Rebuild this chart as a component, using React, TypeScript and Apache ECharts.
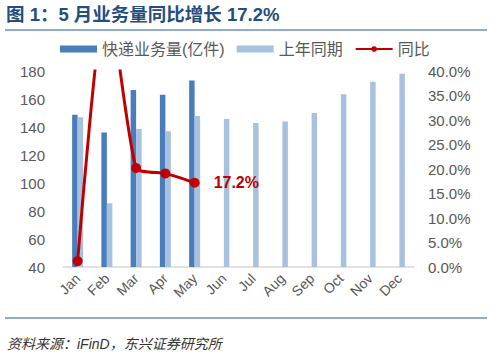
import React, { useEffect, useRef } from "react";
import * as echarts from "echarts";

const months = ["Jan", "Feb", "Mar", "Apr", "May", "Jun", "Jul", "Aug", "Sep", "Oct", "Nov", "Dec"];
const volume2025 = [148.7, 136, 166.5, 163, 173.2];
const volume2024 = [147, 85.5, 138.6, 137, 147.9, 145.7, 142.9, 144, 150, 163.4, 172.4, 178];
const yoy = [1.2, 57, 20.2, 19.1, 17.2];
const leftTicks = { min: 40, max: 180, interval: 20 };
const rightTicks = { min: 0, max: 40, interval: 5 };

const FONT = "'Liberation Sans', Arial, 'Noto Sans CJK SC', sans-serif";

export default function App() {
  const ref = useRef<HTMLDivElement>(null);
  useEffect(() => {
    if (!ref.current) return;
    const chart = echarts.init(ref.current, undefined, { renderer: "svg" });
    chart.setOption({
      animation: false,
      backgroundColor: "#ffffff",
      textStyle: { fontFamily: FONT },
      graphic: [
        {
          type: "text",
          left: 6,
          top: 5,
          style: {
            text: "图 1：5 月业务量同比增长 17.2%",
            fontSize: 18.5,
            fontWeight: "bold",
            fill: "#244e80",
            fontFamily: FONT,
          },
        },
        {
          type: "line",
          shape: { x1: 5, y1: 30, x2: 487, y2: 30 },
          style: { stroke: "#6a92c0", lineWidth: 1.5 },
        },
        {
          type: "line",
          shape: { x1: 5, y1: 318, x2: 487, y2: 318 },
          style: { stroke: "#6a92c0", lineWidth: 1.5 },
        },
        {
          type: "text",
          left: 7,
          top: 337,
          style: {
            text: "资料来源：iFinD，东兴证券研究所",
            fontSize: 14,
            fontStyle: "italic",
            fill: "#333333",
            fontFamily: FONT,
          },
        },
      ],
      legend: {
        top: 36,
        left: 55,
        itemWidth: 37,
        itemHeight: 7,
        itemGap: 12,
        textStyle: { fontSize: 16, color: "#595959", fontFamily: FONT },
        data: [
          { name: "快递业务量(亿件)", icon: "rect" },
          { name: "上年同期", icon: "rect" },
          { name: "同比" },
        ],
      },
      grid: { left: 63, right: 79, top: 71, bottom: 95 },
      xAxis: {
        type: "category",
        data: months,
        axisLine: { lineStyle: { color: "#d9d9d9", width: 1.5 } },
        axisTick: { show: false },
        axisLabel: { rotate: 45, fontSize: 14, color: "#595959", margin: 9, interval: 0 },
      },
      yAxis: [
        {
          type: "value",
          min: leftTicks.min,
          max: leftTicks.max,
          interval: leftTicks.interval,
          axisLine: { show: false },
          axisTick: { show: false },
          splitLine: { show: false },
          axisLabel: { fontSize: 15, color: "#595959", margin: 18 },
        },
        {
          type: "value",
          min: rightTicks.min,
          max: rightTicks.max,
          interval: rightTicks.interval,
          axisLine: { show: false },
          axisTick: { show: false },
          splitLine: { show: false },
          axisLabel: {
            fontSize: 15,
            color: "#595959",
            margin: 14,
            formatter: (v: number) => v.toFixed(1) + "%",
          },
        },
      ],
      series: [
        {
          name: "快递业务量(亿件)",
          type: "bar",
          data: volume2025,
          barWidth: 5.5,
          barGap: "0%",
          itemStyle: { color: "#4a7ebb" },
        },
        {
          name: "上年同期",
          type: "bar",
          data: volume2024,
          barWidth: 5.5,
          itemStyle: { color: "#a8c1df" },
        },
        {
          name: "同比",
          type: "line",
          yAxisIndex: 1,
          data: yoy,
          smooth: 0.2,
          symbol: "circle",
          symbolSize: 10,
          lineStyle: { color: "#c00000", width: 3 },
          itemStyle: { color: "#c00000" },
          label: {
            show: true,
            position: "right",
            distance: 14,
            fontSize: 16,
            fontWeight: "bold",
            color: "#c00000",
            formatter: (p: any) => (p.dataIndex === 4 ? p.value.toFixed(1) + "%" : ""),
          },
        },
      ],
    });
    return () => chart.dispose();
  }, []);
  return (
    <div
      ref={ref}
      style={{ position: "fixed", left: 0, top: 0, width: 493, height: 362 }}
    />
  );
}
